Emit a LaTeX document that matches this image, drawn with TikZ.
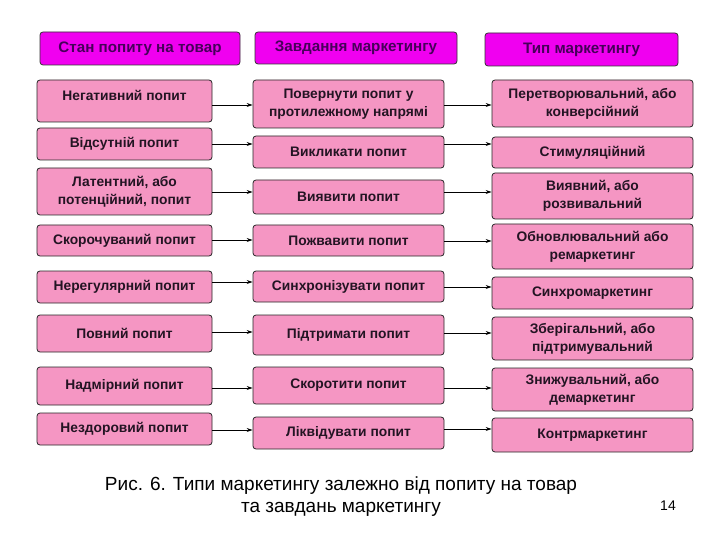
\documentclass[tikz,border=0pt]{standalone}
\usepackage{fontspec}
\setmainfont{Liberation Sans}
\usetikzlibrary{arrows.meta}
\definecolor{boxpink}{RGB}{245,150,195}
\definecolor{headmag}{RGB}{240,0,240}
\definecolor{headtxt}{RGB}{70,0,90}
\definecolor{boxtxt}{RGB}{35,20,35}
\tikzset{
  cell/.style={draw=black!85, line width=0.8pt, fill=boxpink, rounded corners=3pt,
    inner sep=0pt, align=center, text=boxtxt,
    font=\fontsize{13.8}{18}\selectfont\bfseries},
  head/.style={draw=black!80, line width=0.8pt, fill=headmag, rounded corners=3pt,
    inner sep=0pt, align=center, text=headtxt,
    font=\fontsize{15.2}{18}\selectfont\bfseries},
  conn/.style={line width=0.9pt, -{Stealth[length=6pt,width=4pt]}},
}
\begin{document}
\begin{tikzpicture}[x=1pt,y=-1pt]
\useasboundingbox (0,0) rectangle (720,540);
% headers
\node[head, minimum width=200pt, minimum height=33pt] (h1) at (140,48.5) {Стан попиту на товар};
\node[head, minimum width=202pt, minimum height=32pt] (h2) at (356,48) {Завдання маркетингу};
\node[head, minimum width=193pt, minimum height=33pt] (h3) at (581.5,49.5) {Тип маркетингу};
% column 1
\tikzset{c1/.style={cell, minimum width=175pt}}
\node[c1, minimum height=42pt, text depth=12pt] (a1) at (124.5,101) {Негативний попит};
\node[c1, minimum height=32pt] (a2) at (124.5,144) {Відсутній попит};
\node[c1, minimum height=47pt] (a3) at (124.5,191.5) {Латентний, або\\потенційний, попит};
\node[c1, minimum height=31pt] (a4) at (124.5,240.5) {Скорочуваний попит};
\node[c1, minimum height=32pt] (a5) at (124.5,287) {Нерегулярний попит};
\node[c1, minimum height=37pt] (a6) at (124.5,333.5) {Повний попит};
\node[c1, minimum height=38pt] (a7) at (124.5,386) {Надмірний попит};
\node[c1, minimum height=32pt] (a8) at (124.5,429) {Нездоровий попит};
% column 2
\tikzset{c2/.style={cell, minimum width=191pt}}
\node[c2, minimum height=48pt] (b1) at (348.5,104) {Повернути попит у\\протилежному напрямі};
\node[c2, minimum height=32pt] (b2) at (348.5,152) {Викликати попит};
\node[c2, minimum height=34pt] (b3) at (348.5,197) {Виявити попит};
\node[c2, minimum height=31pt] (b4) at (348.5,240.5) {Пожвавити попит};
\node[c2, minimum height=31pt] (b5) at (348.5,286.5) {Синхронізувати попит};
\node[c2, minimum height=40pt] (b6) at (348.5,335) {Підтримати попит};
\node[c2, minimum height=37pt] (b7) at (348.5,385.5) {Скоротити попит};
\node[c2, minimum height=32pt] (b8) at (348.5,433) {Ліквідувати попит};
% column 3
\tikzset{c3/.style={cell, minimum width=201pt}}
\node[c3, minimum height=47pt] (d1) at (592.5,103.5) {Перетворювальний, або\\конверсійний};
\node[c3, minimum height=31pt] (d2) at (592.5,152.5) {Стимуляційний};
\node[c3, minimum height=46pt] (d3) at (592.5,196) {Виявний, або\\розвивальний};
\node[c3, minimum height=45pt] (d4) at (592.5,246.5) {Обновлювальний або\\ремаркетинг};
\node[c3, minimum height=32pt] (d5) at (592.5,293) {Синхромаркетинг};
\node[c3, minimum height=43pt] (d6) at (592.5,338.5) {Зберігальний, або\\підтримувальний};
\node[c3, minimum height=43pt] (d7) at (592.5,389.5) {Знижувальний, або\\демаркетинг};
\node[c3, minimum height=34pt] (d8) at (592.5,435) {Контрмаркетинг};
% arrow levels
\coordinate (p1) at (0,105); \coordinate (q1) at (0,105);
\coordinate (p2) at (0,144); \coordinate (q2) at (0,144);
\coordinate (p3) at (0,192); \coordinate (q3) at (0,192);
\coordinate (p4) at (0,240); \coordinate (q4) at (0,241);
\coordinate (p5) at (0,282); \coordinate (q5) at (0,287);
\coordinate (p6) at (0,332); \coordinate (q6) at (0,333);
\coordinate (p7) at (0,388); \coordinate (q7) at (0,388);
\coordinate (p8) at (0,430); \coordinate (q8) at (0,429);
\foreach \i in {1,...,8}{
  \draw[conn] (a\i.east |- p\i) -- (b\i.west |- p\i);
  \draw[conn] (b\i.east |- q\i) -- (d\i.west |- q\i);
}
% caption
\node[align=center, font=\fontsize{19}{22}\selectfont, inner sep=0pt] (cap) at (341,497)
  {Рис. 6. Типи маркетингу залежно від попиту на товар\\та завдань маркетингу};
\node[font=\fontsize{14}{16}\selectfont, inner sep=0pt] (pg) at (668,506) {14};
\end{tikzpicture}
\end{document}
